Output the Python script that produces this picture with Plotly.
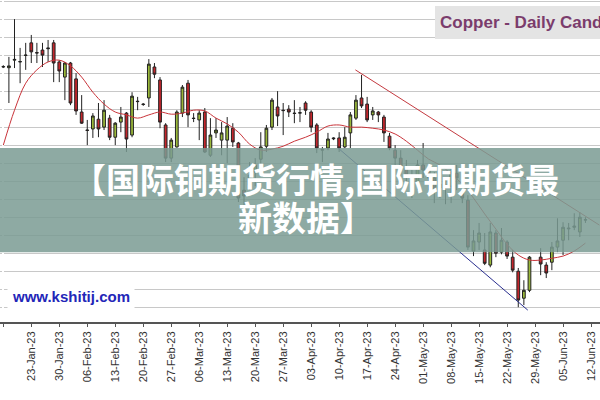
import plotly.graph_objects as go

# trading-day index (weekdays from 16-Jan-23); 95 = 29-May holiday, no bar
day_index = list(range(0, 95)) + list(range(96, 105))
opens = [4.217,4.215,4.236,4.231,4.249,4.284,4.257,4.264,4.270,4.284,4.231,4.189,4.228,4.184,4.092,4.042,4.045,4.072,
         4.050,4.075,4.022,4.064,4.089,4.028,4.122,4.114,4.131,4.217,4.181,4.056,3.964,3.995,4.089,4.172,4.075,4.070,
         4.092,3.972,4.034,4.014,4.014,4.047,4.006,3.875,3.889,3.925,3.961,3.997,4.050,4.106,4.097,4.100,4.089,4.089,
         4.117,4.092,4.056,3.986,3.992,4.020,4.020,3.995,4.034,4.075,4.131,4.114,4.084,4.092,4.078,4.025,3.986,
         3.964,3.936,3.914,3.895,3.945,3.931,3.909,3.881,3.889,3.886,3.922,3.875,3.847,3.706,3.731,3.709,3.667,3.756,
         3.703,3.731,3.689,3.650,3.575,3.597,3.689,3.667,3.675,3.717,3.736,3.770,3.772,3.759,3.792]
highs = [4.222,4.245,4.350,4.270,4.284,4.306,4.284,4.284,4.292,4.292,4.236,4.231,4.231,4.200,4.139,4.070,4.089,4.117,
         4.125,4.084,4.064,4.106,4.092,4.147,4.134,4.117,4.239,4.228,4.189,4.061,4.020,4.097,4.167,4.181,4.089,4.097,
         4.103,4.075,4.075,4.064,4.078,4.061,4.009,3.911,3.953,3.964,4.036,4.056,4.131,4.150,4.117,4.111,4.125,4.106,
         4.122,4.097,4.061,3.995,4.034,4.022,4.036,4.050,4.092,4.139,4.195,4.134,4.106,4.095,4.084,4.034,4.000,
         3.986,3.959,3.931,3.959,4.006,3.945,3.925,3.917,3.909,3.936,3.945,3.886,3.861,3.764,3.784,3.756,3.784,3.764,
         3.770,3.736,3.709,3.659,3.625,3.692,3.714,3.675,3.731,3.797,3.786,3.784,3.811,3.814,3.800]
lows = [4.214,4.117,4.214,4.172,4.209,4.228,4.228,4.217,4.231,4.175,4.175,4.125,4.111,4.084,4.059,4.000,4.020,4.022,
        4.042,4.014,4.000,4.036,3.981,4.022,4.097,4.109,4.106,4.186,4.047,3.953,3.953,3.993,4.078,4.050,4.064,4.014,
        3.978,3.967,4.020,3.972,3.950,3.995,3.842,3.828,3.875,3.886,3.945,3.981,4.042,4.053,4.028,4.078,4.061,4.064,
        4.084,4.036,3.978,3.953,3.986,4.014,3.981,3.992,3.992,4.070,4.103,4.064,4.070,4.064,4.009,3.986,3.945,
        3.917,3.889,3.853,3.875,3.909,3.875,3.839,3.853,3.836,3.839,3.875,3.839,3.709,3.692,3.709,3.667,3.661,3.689,
        3.697,3.684,3.647,3.550,3.556,3.592,3.639,3.631,3.653,3.703,3.695,3.736,3.764,3.745,3.784]
closes = [4.218,4.220,4.238,4.232,4.250,4.259,4.256,4.250,4.268,4.228,4.206,4.228,4.117,4.095,4.061,4.041,4.081,4.045,
          4.097,4.022,4.061,4.078,4.017,4.136,4.121,4.113,4.225,4.197,4.064,3.964,4.014,4.092,4.161,4.084,4.074,4.089,
          3.981,4.028,4.042,4.034,4.053,4.009,3.853,3.859,3.917,3.945,3.995,4.047,4.125,4.081,4.096,4.092,4.088,4.090,
          4.097,4.050,3.992,3.988,4.017,4.018,3.992,4.022,4.084,4.125,4.109,4.070,4.095,4.084,4.034,3.992,3.964,
          3.936,3.917,3.889,3.945,3.931,3.909,3.875,3.892,3.884,3.925,3.909,3.853,3.717,3.734,3.756,3.672,3.759,3.700,
          3.736,3.692,3.653,3.570,3.597,3.689,3.670,3.645,3.717,3.734,3.772,3.768,3.775,3.800,3.793]

ma_index = list(range(0, 105, 2))
ma_values = [4.000,4.097,4.172,4.209,4.231,4.236,4.220,4.189,4.147,4.114,4.092,4.084,4.075,4.084,4.092,4.086,
             4.089,4.097,4.095,4.075,4.059,4.036,4.003,3.986,3.989,3.997,4.011,4.022,4.036,4.053,4.056,4.050,
             4.050,4.047,4.042,4.031,4.011,3.986,3.961,3.945,3.920,3.892,3.853,3.809,3.767,3.725,3.695,3.681,
             3.681,3.686,3.692,3.706,3.728]

tick_index = list(range(0, 110, 5))
tick_labels = ["16-Jan-23","23-Jan-23","30-Jan-23","06-Feb-23","13-Feb-23","20-Feb-23","27-Feb-23","06-Mar-23",
               "13-Mar-23","20-Mar-23","27-Mar-23","03-Apr-23","10-Apr-23","17-Apr-23","24-Apr-23","01-May-23",
               "08-May-23","15-May-23","22-May-23","29-May-23","05-Jun-23","12-Jun-23"]

resist_x = [62.9, 106.5]; resist_y = [4.209, 3.778]
support_x = [59.8, 93.7]; support_y = [3.992, 3.542]

fig = go.Figure()
fig.add_trace(go.Candlestick(
    x=day_index, open=opens, high=highs, low=lows, close=closes,
    increasing=dict(line=dict(color="#222", width=1), fillcolor="#9ab83a"),
    decreasing=dict(line=dict(color="#222", width=1), fillcolor="#c4262c"),
    whiskerwidth=0, showlegend=False))
fig.add_trace(go.Scatter(x=ma_index, y=ma_values, mode="lines", line=dict(color="#c9343a", width=1, shape="spline"),
                         showlegend=False))
fig.add_trace(go.Scatter(x=resist_x, y=resist_y, mode="lines", line=dict(color="#c43a40", width=1), showlegend=False))
fig.add_trace(go.Scatter(x=support_x, y=support_y, mode="lines", line=dict(color="#2a2f8f", width=1), showlegend=False))

fig.update_layout(
    width=600, height=400, margin=dict(l=0, r=0, t=0, b=78),
    paper_bgcolor="white", plot_bgcolor="white",
    xaxis=dict(range=[-0.59, 106.6], tickmode="array", tickvals=tick_index, ticktext=tick_labels, automargin=False,
               tickangle=-90, tickfont=dict(family="Liberation Sans, Arial", size=11, color="#333"),
               showgrid=False, rangeslider=dict(visible=False), showline=True, linecolor="#555", linewidth=2,
               ticks="outside", ticklen=3, tickcolor="#555"),
    yaxis=dict(range=[3.509, 4.403], dtick=0.05, tick0=3.55, showgrid=True, gridcolor="#c8c8c8", gridwidth=1,
               showticklabels=False, zeroline=False, automargin=False),
    shapes=[
        dict(type="rect", xref="paper", yref="paper", x0=0, x1=1, y0=0.217, y1=0.540,
             fillcolor="rgba(122,155,147,0.85)", line=dict(width=0), layer="above"),
        dict(type="rect", xref="paper", yref="paper", x0=0.725, x1=1.01, y0=0.879, y1=0.981,
             fillcolor="#e4e4e4", line=dict(width=0), layer="above"),
    ],
    annotations=[
        dict(text="【国际铜期货行情,国际铜期货最", xref="paper", yref="paper", x=0.526, y=0.445, showarrow=False,
             font=dict(family="Noto Sans CJK SC", size=34, color="white", weight="bold"), xanchor="center", yanchor="middle"),
        dict(text="新数据】", xref="paper", yref="paper", x=0.51, y=0.328, showarrow=False,
             font=dict(family="Noto Sans CJK SC", size=34, color="white", weight="bold"), xanchor="center", yanchor="middle"),
        dict(text="Copper - Daily Candlestick", xref="paper", yref="paper", x=0.73, y=0.930, showarrow=False,
             xanchor="left", yanchor="middle",
             font=dict(family="Liberation Sans, Arial", size=17, color="#7b3c6c", weight="bold")),
        dict(text="www.kshitij.com", xref="paper", yref="paper", x=0.012, y=0.078, showarrow=False,
             xanchor="left", yanchor="middle", bgcolor="white", borderpad=4,
             font=dict(family="Liberation Sans, Arial", size=15, color="#2326b8", weight="bold")),
    ],
)
fig.write_html("out.html", config={"displayModeBar": False},
               post_script="document.body.style.margin='0';document.body.style.overflow='hidden';")
